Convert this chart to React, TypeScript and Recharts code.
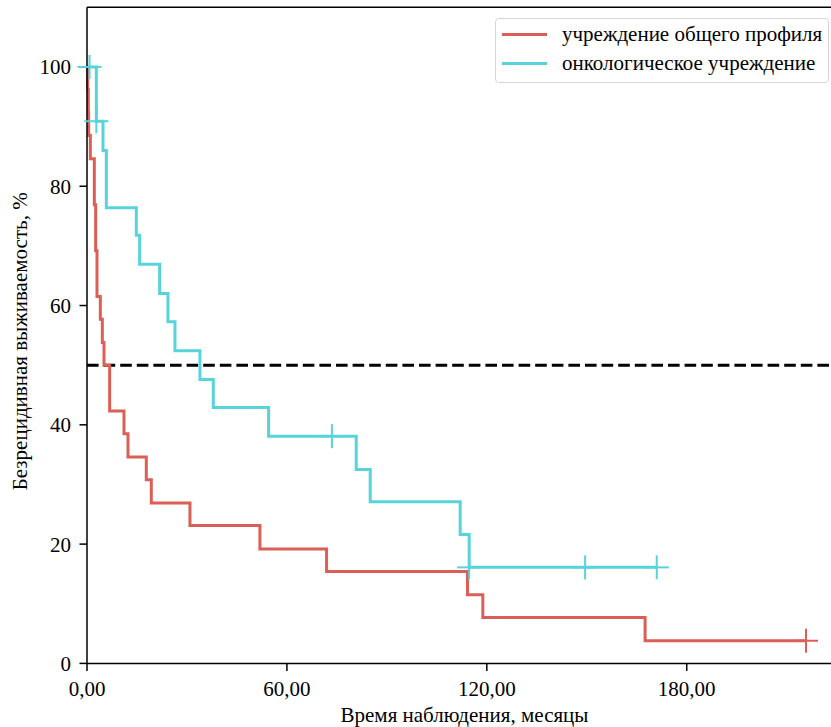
import React from 'react';
import {
  ComposedChart,
  Line,
  Scatter,
  XAxis,
  YAxis,
  ReferenceLine,
} from 'recharts';

// Kaplan–Meier step points: t = months, s = relapse-free survival, %
const generalHospital = [
  { t: 0, s: 100 },
  { t: 0.2, s: 96.2 },
  { t: 0.4, s: 92.3 },
  { t: 0.5, s: 88.5 },
  { t: 1.0, s: 84.6 },
  { t: 2.2, s: 76.9 },
  { t: 2.6, s: 69.2 },
  { t: 3.0, s: 61.5 },
  { t: 4.0, s: 57.7 },
  { t: 4.6, s: 53.8 },
  { t: 5.1, s: 50.0 },
  { t: 6.8, s: 42.3 },
  { t: 11.1, s: 38.5 },
  { t: 12.3, s: 34.6 },
  { t: 17.8, s: 30.8 },
  { t: 19.3, s: 26.9 },
  { t: 30.9, s: 23.1 },
  { t: 51.9, s: 19.2 },
  { t: 71.9, s: 15.4 },
  { t: 114.2, s: 11.5 },
  { t: 118.8, s: 7.7 },
  { t: 167.5, s: 3.8 },
  { t: 215.8, s: 3.8 },
];

const generalHospitalCensored = [{ t: 215.8, s: 3.8 }];

const oncologyCenter = [
  { t: 0, s: 100 },
  { t: 2.8, s: 90.9 },
  { t: 4.8, s: 86.0 },
  { t: 5.8, s: 76.4 },
  { t: 14.8, s: 71.8 },
  { t: 15.8, s: 66.9 },
  { t: 21.8, s: 62.0 },
  { t: 24.3, s: 57.3 },
  { t: 26.4, s: 52.4 },
  { t: 33.9, s: 47.6 },
  { t: 37.9, s: 42.9 },
  { t: 54.5, s: 38.1 },
  { t: 80.8, s: 32.5 },
  { t: 85.0, s: 27.1 },
  { t: 112.0, s: 21.6 },
  { t: 114.7, s: 16.1 },
  { t: 171.0, s: 16.1 },
];

const oncologyCenterCensored = [
  { t: 0.75, s: 100 },
  { t: 2.8, s: 90.9 },
  { t: 73.5, s: 38.1 },
  { t: 114.7, s: 16.1 },
  { t: 149.5, s: 16.1 },
  { t: 171.0, s: 16.1 },
];

const seriesNames = ['учреждение общего профиля', 'онкологическое учреждение'];
const xTicks = [0, 60, 120, 180];
const yTicks = [0, 20, 40, 60, 80, 100];
const medianLevel = 50;

const RED = '#db5f57';
const CYAN = '#57d3db';
const FONT = "'Liberation Serif', 'Times New Roman', serif";
const FS = 21;

const plusMarker = (color: string) => (props: any) => {
  const { cx, cy } = props;
  const r = 12;
  return (
    <g>
      <line x1={cx - r} y1={cy} x2={cx + r} y2={cy} stroke={color} strokeWidth={2} />
      <line x1={cx} y1={cy - r} x2={cx} y2={cy + r} stroke={color} strokeWidth={2} />
    </g>
  );
};

const formatMonths = (v: number) => v.toFixed(2).replace('.', ',');

export default function App() {
  return (
    <div
      style={{
        position: 'absolute',
        left: 0,
        top: 0,
        width: 831,
        height: 727,
        overflow: 'hidden',
        background: '#fff',
      }}
    >
      <ComposedChart
        width={842}
        height={727}
        margin={{ top: 7.3, right: 0, bottom: 3.6, left: 0 }}
      >
        <XAxis
          type="number"
          dataKey="t"
          domain={[0, 226.6]}
          ticks={xTicks}
          tickFormatter={formatMonths}
          height={60}
          tickSize={7.5}
          tickMargin={10}
          axisLine={{ stroke: '#000', strokeWidth: 1.5 }}
          tickLine={{ stroke: '#000', strokeWidth: 1.5 }}
          tick={{ fill: '#000', fontSize: FS, fontFamily: FONT }}
          label={{
            content: (p: any) => {
              const vb = p.viewBox || {};
              return (
                <text
                  x={vb.x + vb.width / 2}
                  y={722}
                  textAnchor="middle"
                  fill="#000"
                  fontSize={FS}
                  fontFamily={FONT}
                >
                  Время наблюдения, месяцы
                </text>
              );
            },
          }}
        />
        <YAxis
          type="number"
          domain={[0, 110]}
          ticks={yTicks}
          width={87}
          tickSize={7.5}
          tickMargin={8.5}
          axisLine={{ stroke: '#000', strokeWidth: 1.5 }}
          tickLine={{ stroke: '#000', strokeWidth: 1.5 }}
          tick={{ fill: '#000', fontSize: FS, fontFamily: FONT }}
          label={{
            content: (p: any) => {
              const vb = p.viewBox || {};
              const cy = vb.y + vb.height / 2 + 6;
              return (
                <text
                  x={20}
                  y={cy}
                  transform={`rotate(-90 20 ${cy})`}
                  textAnchor="middle"
                  dominantBaseline="central"
                  fill="#000"
                  fontSize={FS}
                  fontFamily={FONT}
                >
                  Безрецидивная выживаемость, %
                </text>
              );
            },
          }}
        />
        <ReferenceLine y={110} stroke="#000" strokeWidth={1.5} ifOverflow="visible" />
        <ReferenceLine
          y={medianLevel}
          stroke="#000"
          strokeWidth={3}
          strokeDasharray="11.6 5"
        />
        <Line
          data={generalHospital}
          dataKey="s"
          type="stepAfter"
          stroke={RED}
          strokeWidth={3}
          dot={false}
          activeDot={false}
          isAnimationActive={false}
          name={seriesNames[0]}
        />
        <Line
          data={oncologyCenter}
          dataKey="s"
          type="stepAfter"
          stroke={CYAN}
          strokeWidth={3}
          dot={false}
          activeDot={false}
          isAnimationActive={false}
          name={seriesNames[1]}
        />
        <Scatter
          data={generalHospitalCensored}
          dataKey="s"
          shape={plusMarker(RED)}
          isAnimationActive={false}
        />
        <Scatter
          data={oncologyCenterCensored}
          dataKey="s"
          shape={plusMarker(CYAN)}
          isAnimationActive={false}
        />
      </ComposedChart>

      <div
        style={{
          position: 'absolute',
          left: 495,
          top: 18,
          width: 334,
          height: 65,
          boxSizing: 'border-box',
          border: '1px solid #d6d6d6',
          borderRadius: 4,
          background: 'rgba(255,255,255,0.85)',
          fontFamily: FONT,
          fontSize: FS,
          color: '#000',
        }}
      >
        {[RED, CYAN].map((c, i) => (
          <div
            key={i}
            style={{
              position: 'absolute',
              left: 6,
              top: 15.3 + i * 29 - 15,
              height: 30,
              display: 'flex',
              alignItems: 'center',
              whiteSpace: 'nowrap',
            }}
          >
            <span
              style={{
                display: 'inline-block',
                width: 45,
                height: 3,
                background: c,
                marginRight: 15,
              }}
            />
            <span>{seriesNames[i]}</span>
          </div>
        ))}
      </div>
    </div>
  );
}
